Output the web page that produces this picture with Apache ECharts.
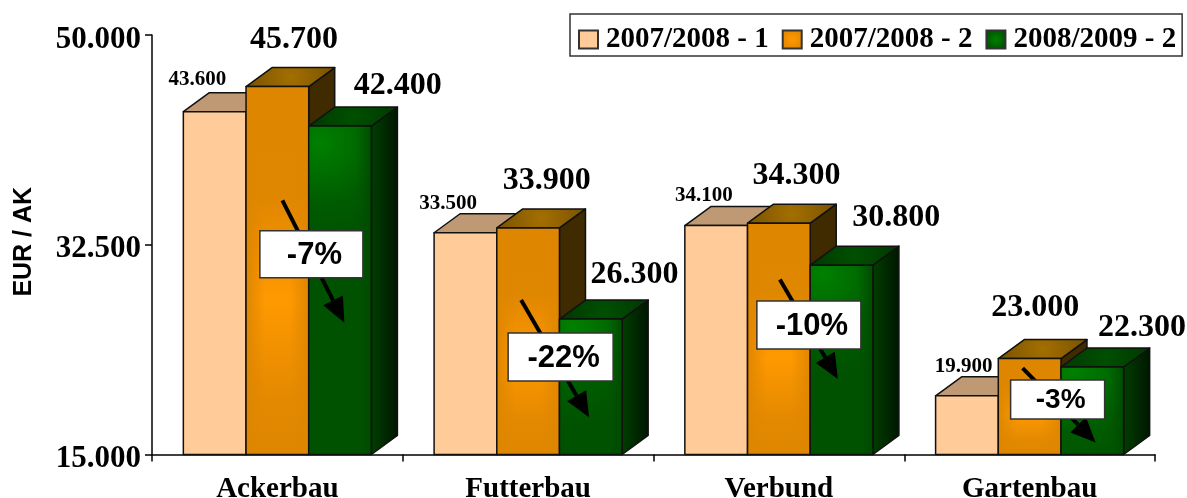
<!DOCTYPE html>
<html>
<head>
<meta charset="utf-8">
<title>EUR / AK</title>
<script src="https://cdn.jsdelivr.net/npm/echarts@6/dist/echarts.min.js"></script>
<style>
html, body { margin: 0; padding: 0; background: #fff; }
#chart { width: 1187px; height: 498px; }
</style>
</head>
<body>
<div id="chart"></div>
<script>
const categories = ['Ackerbau', 'Futterbau', 'Verbund', 'Gartenbau'];
const seriesNames = ['2007/2008 - 1', '2007/2008 - 2', '2008/2009 - 2'];
const values1 = [43600, 33500, 34100, 19900];
const values2 = [45700, 33900, 34300, 23000];
const values3 = [42400, 26300, 30800, 22300];
const yTicks = [15000, 32500, 50000];

// change boxes and their arrows, in chart values
const changeLabels = ['-7%', '-22%', '-10%', '-3%'];
const arrowTail = [36200, 27900, 29600, 22200];
const arrowTip = [26000, 18100, 21300, 16000];
const boxCenter = [31700, 23130, 25800, 19590];

// pixel tweaks for the hand placed texts and boxes
const labelDx = [[14, 48, 89], [14, 50, 75], [19, 49, 86], [28, 37, 81]];
const labelDy = [[-32, -47, -40], [-29, -47, -44], [-30, -47, -47], [-29, -51, -39]];
const arrowDx = [[5, 67], [-7, 61], [1, 59], [-7, 66]];
const boxDx = [34, 32.5, 30, 28];
const boxSize = [[103, 47], [105, 48], [104, 48], [94, 39]];
const boxFont = [31, 31, 31, 28];

const DEPTH_X = 26;
const DEPTH_Y = 19;
const G = echarts.graphic;

function stops(list) {
    return list.map(s => ({ offset: s[0], color: s[1] }));
}

const faces = [
    {
        front: '#FFCC99', edge: null,
        top: '#BF9973',
        side: '#BF9973',
        swatch: '#FFCC99'
    },
    {
        front: new G.LinearGradient(0, 0, 0, 1, stops([[0, '#DF8600'], [0.3, '#E08700'], [0.58, '#FF9900'], [0.85, '#E38900'], [1, '#DF8600']])),
        edge: new G.LinearGradient(0, 0, 1, 0, stops([[0, 'rgba(223,134,0,1)'], [0.3, 'rgba(223,134,0,0)'], [0.7, 'rgba(223,134,0,0)'], [1, 'rgba(223,134,0,1)']])),
        top: new G.RadialGradient(0.5, 0.5, 2.2, stops([[0, '#A36F00'], [1, '#7A5200']])),
        side: '#402B00',
        swatch: new G.RadialGradient(0.5, 0.5, 0.6, stops([[0, '#FF9900'], [1, '#DF8600']]))
    },
    {
        front: new G.RadialGradient(0.2, 0.05, 1.6, stops([[0, '#008000'], [0.6, '#005C00'], [1, '#005200']])),
        edge: new G.LinearGradient(0, 0, 1, 0, stops([[0, 'rgba(0,80,0,0)'], [0.75, 'rgba(0,80,0,0)'], [1, 'rgba(0,70,0,0.8)']])),
        top: new G.RadialGradient(0.5, 0.5, 2.2, stops([[0, '#005000'], [1, '#003800']])),
        side: new G.LinearGradient(0, 0, 1, 0, stops([[0, '#003F00'], [1, '#001600']])),
        swatch: new G.RadialGradient(0.5, 0.5, 0.6, stops([[0, '#008000'], [1, '#004D00']]))
    }
];

function formatValue(v) {
    return String(v).replace(/(\d)(\d{3})$/, '$1.$2');
}

function renderBar(seriesIndex, params, api) {
    const cat = api.value(0);
    const val = api.value(1);
    const base = api.coord([cat, yTicks[0]]);
    const top = api.coord([cat, val]);
    const barW = api.size([1, 0])[0] * 0.25;
    const x0 = base[0] + (seriesIndex - 1.5) * barW;
    const x1 = x0 + barW;
    const y0 = top[1];
    const y1 = base[1];
    const face = faces[seriesIndex];
    const line = { stroke: '#111', lineWidth: 1.5, lineJoin: 'round' };
    const children = [
        {
            type: 'polygon',
            shape: { points: [[x1, y0], [x1 + DEPTH_X, y0 - DEPTH_Y], [x1 + DEPTH_X, y1 - DEPTH_Y], [x1, y1]] },
            style: Object.assign({ fill: face.side }, line)
        },
        {
            type: 'polygon',
            shape: { points: [[x0, y0], [x0 + DEPTH_X, y0 - DEPTH_Y], [x1 + DEPTH_X, y0 - DEPTH_Y], [x1, y0]] },
            style: Object.assign({ fill: face.top }, line)
        },
        {
            type: 'rect',
            shape: { x: x0, y: y0, width: barW, height: y1 - y0 },
            style: { fill: face.front }
        }
    ];
    if (face.edge) {
        children.push({
            type: 'rect',
            shape: { x: x0, y: y0, width: barW, height: y1 - y0 },
            style: { fill: face.edge }
        });
    }
    children.push({
        type: 'rect',
        shape: { x: x0, y: y0, width: barW, height: y1 - y0 },
        style: Object.assign({ fill: 'none' }, line)
    });
    children.push({
        type: 'text',
        style: {
            x: x0 + labelDx[cat][seriesIndex],
            y: y0 + labelDy[cat][seriesIndex],
            text: formatValue(val),
            fill: '#000',
            align: 'center',
            verticalAlign: 'middle',
            font: seriesIndex === 0
                ? 'bold 21px "Liberation Serif"'
                : 'bold 32px "Liberation Serif"'
        }
    });
    return { type: 'group', children };
}

function renderChange(params, api) {
    const i = api.value(0);
    const center = api.coord([i, yTicks[0]])[0];
    const tail = [center + arrowDx[i][0], api.coord([i, arrowTail[i]])[1]];
    const tip = [center + arrowDx[i][1], api.coord([i, arrowTip[i]])[1]];
    const ang = Math.atan2(tip[1] - tail[1], tip[0] - tail[0]);
    const headLen = 25;
    const headW = 11;
    const bx = tip[0] - headLen * Math.cos(ang);
    const by = tip[1] - headLen * Math.sin(ang);
    const nx = -Math.sin(ang);
    const ny = Math.cos(ang);
    const cy = api.coord([i, boxCenter[i]])[1];
    const cx = center + boxDx[i];
    const bw = boxSize[i][0];
    const bh = boxSize[i][1];
    return {
        type: 'group',
        children: [
            {
                type: 'line',
                shape: { x1: tail[0], y1: tail[1], x2: bx, y2: by },
                style: { stroke: '#000', lineWidth: 4 }
            },
            {
                type: 'polygon',
                shape: { points: [tip, [bx + nx * headW, by + ny * headW], [bx - nx * headW, by - ny * headW]] },
                style: { fill: '#000' }
            },
            {
                type: 'rect',
                shape: { x: cx - bw / 2, y: cy - bh / 2, width: bw, height: bh },
                style: { fill: '#fff', stroke: '#333', lineWidth: 1.5 }
            },
            {
                type: 'text',
                style: {
                    x: cx + 3,
                    y: cy + 1,
                    text: changeLabels[i],
                    fill: '#000',
                    align: 'center',
                    verticalAlign: 'middle',
                    font: 'bold ' + boxFont[i] + 'px "Liberation Sans"'
                }
            }
        ]
    };
}

const allValues = [values1, values2, values3];

const chart = echarts.init(document.getElementById('chart'), null, { renderer: 'canvas' });

chart.setOption({
    animation: false,
    backgroundColor: '#fff',
    grid: { left: 152, right: 32, top: 35, bottom: 43.5, outerBoundsMode: 'none' },
    legend: {
        data: seriesNames.map(name => ({ name, icon: 'rect' })),
        left: 570,
        top: 14,
        padding: [11, 6, 2, 8],
        itemWidth: 19,
        itemHeight: 18,
        itemGap: 13,
        borderColor: '#333',
        borderWidth: 1.5,
        selectedMode: false,
        formatter: name => '{t|' + name + '}',
        textStyle: {
            rich: {
                t: {
                    fontFamily: 'Liberation Serif',
                    fontWeight: 'bold',
                    fontSize: 29,
                    color: '#000',
                    padding: [0, 0, 0, 3]
                }
            }
        }
    },
    xAxis: {
        type: 'category',
        data: categories,
        axisLine: { lineStyle: { color: '#000', width: 1.5 } },
        axisTick: { show: true, length: 7, lineStyle: { color: '#000', width: 1.5 } },
        axisLabel: {
            margin: 21,
            fontFamily: 'Liberation Serif',
            fontWeight: 'bold',
            fontSize: 29,
            color: '#000'
        }
    },
    yAxis: {
        type: 'value',
        min: yTicks[0],
        max: yTicks[yTicks.length - 1],
        name: 'EUR / AK',
        nameLocation: 'middle',
        nameGap: 115,
        nameTextStyle: {
            fontFamily: 'Liberation Sans',
            fontWeight: 'bold',
            fontSize: 25,
            color: '#000',
            padding: [0, 0, 0, 6]
        },
        splitLine: { show: false },
        axisLine: { show: true, lineStyle: { color: '#000', width: 1.5 } },
        axisTick: { show: true, length: 7, customValues: yTicks, lineStyle: { color: '#000', width: 1.5 } },
        axisLabel: {
            margin: 11,
            customValues: yTicks,
            formatter: v => '{t|' + formatValue(v) + '}',
            rich: {
                t: {
                    padding: [9, 0, 0, 0],
                    fontFamily: 'Liberation Serif',
                    fontWeight: 'bold',
                    fontSize: 31,
                    color: '#000'
                }
            }
        }
    },
    series: seriesNames.map((name, s) => ({
        name,
        type: 'custom',
        coordinateSystem: 'cartesian2d',
        clip: false,
        z: 2 + s,
        itemStyle: { color: faces[s].swatch, borderColor: '#333', borderWidth: 1 },
        encode: { x: 0, y: 1 },
        data: categories.map((c, i) => [i, allValues[s][i]]),
        renderItem: (params, api) => renderBar(s, params, api)
    })).concat([{
        name: 'change',
        type: 'custom',
        coordinateSystem: 'cartesian2d',
        clip: false,
        z: 10,
        encode: { x: 0, y: 1 },
        data: categories.map((c, i) => [i, boxCenter[i]]),
        renderItem: renderChange
    }])
});
</script>
</body>
</html>
